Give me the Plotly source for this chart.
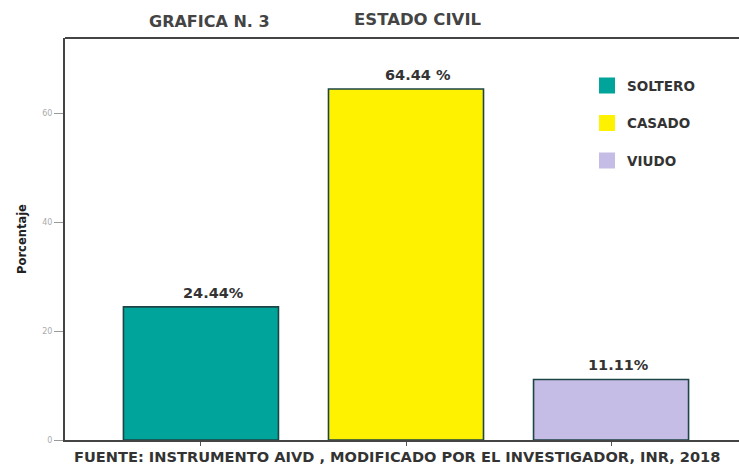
import plotly.graph_objects as go

# Marital status distribution (percent)
categorias = ["SOLTERO", "CASADO", "VIUDO"]
porcentajes = [24.44, 64.44, 11.11]
etiquetas = ["24.44%", "64.44 %", "11.11%"]
colores = ["#00A49B", "#FFF200", "#C6BDE6"]
ticks_y = [0, 20, 40, 60]

FONT = "DejaVu Sans"
TXT = "#333333"
label_dx = [13, 12, 7]  # horizontal nudge of each value label (px)

fig = go.Figure()
for cat, val, col in zip(categorias, porcentajes, colores):
    fig.add_trace(go.Bar(
        x=[cat], y=[val], name=cat, legendgroup=cat, showlegend=False,
        width=0.756,
        marker=dict(color=col, line=dict(color="#1d4545", width=1.6)),
    ))
    # legend entry with a larger square swatch
    fig.add_trace(go.Scatter(
        x=[None], y=[None], mode="markers", name=cat, legendgroup=cat,
        marker=dict(symbol="square", size=16, color=col,
                    line=dict(color=col, width=0)),
    ))

# value labels above the bars
for cat, val, lab, dx in zip(categorias, porcentajes, etiquetas, label_dx):
    fig.add_annotation(x=cat, y=val, text=lab, showarrow=False,
                       xanchor="center", yanchor="middle", xshift=dx, yshift=14,
                       font=dict(family=FONT, size=14.5, color=TXT, weight="bold"))

fig.update_layout(
    width=739, height=467,
    margin=dict(l=65, r=0, t=38, b=27),
    paper_bgcolor="white", plot_bgcolor="white",
    barmode="overlay",
    showlegend=True,
    legend=dict(
        x=0.7745, y=0.92, xanchor="left", yanchor="top",
        font=dict(family=FONT, size=13.5, color=TXT, weight="bold"),
        tracegroupgap=17, itemwidth=30, itemsizing="trace",
        bgcolor="rgba(0,0,0,0)",
    ),
    font=dict(family=FONT, color=TXT),
)

fig.update_xaxes(
    type="category", categoryorder="array", categoryarray=categorias,
    range=[-0.663, 2.624], showticklabels=False,
    ticks="outside", ticklen=4, tickcolor="#555555",
    showline=True, linecolor="#444444", linewidth=2, mirror=False,
    showgrid=False, zeroline=False,
)
fig.update_yaxes(
    range=[0, 73.8], tickvals=ticks_y,
    ticks="outside", ticklen=9, tickcolor="#999999",
    tickfont=dict(family=FONT, size=8, color="#aaaaaa"),
    showline=True, linecolor="#444444", linewidth=2,
    showgrid=False, zeroline=False,
    title=dict(text="Porcentaje", font=dict(family=FONT, size=11.5, color="#222222", weight="bold"), standoff=13),
)

# top border of the frame
fig.add_shape(type="line", xref="paper", yref="paper", x0=0, x1=1, y0=1, y1=1,
              line=dict(color="#444444", width=2))

# titles
fig.add_annotation(text="GRAFICA N. 3", xref="paper", yref="paper",
                   x=(209 - 65) / 674, y=1, yshift=16.5, xanchor="center", yanchor="middle",
                   showarrow=False,
                   font=dict(family=FONT, size=16, color="#444444", weight="bold"))
fig.add_annotation(text="ESTADO CIVIL", xref="paper", yref="paper",
                   x=(418 - 65) / 674, y=1, yshift=18.5, xanchor="center", yanchor="middle",
                   showarrow=False,
                   font=dict(family=FONT, size=16.5, color="#444444", weight="bold"))

# source note
fig.add_annotation(text="FUENTE: INSTRUMENTO AIVD , MODIFICADO POR EL INVESTIGADOR, INR, 2018",
                   xref="paper", yref="paper", x=(397 - 65) / 674, y=0, yshift=-16,
                   xanchor="center", yanchor="middle", showarrow=False,
                   font=dict(family=FONT, size=14.6, color=TXT, weight="bold"))

fig.write_html("out.html")
